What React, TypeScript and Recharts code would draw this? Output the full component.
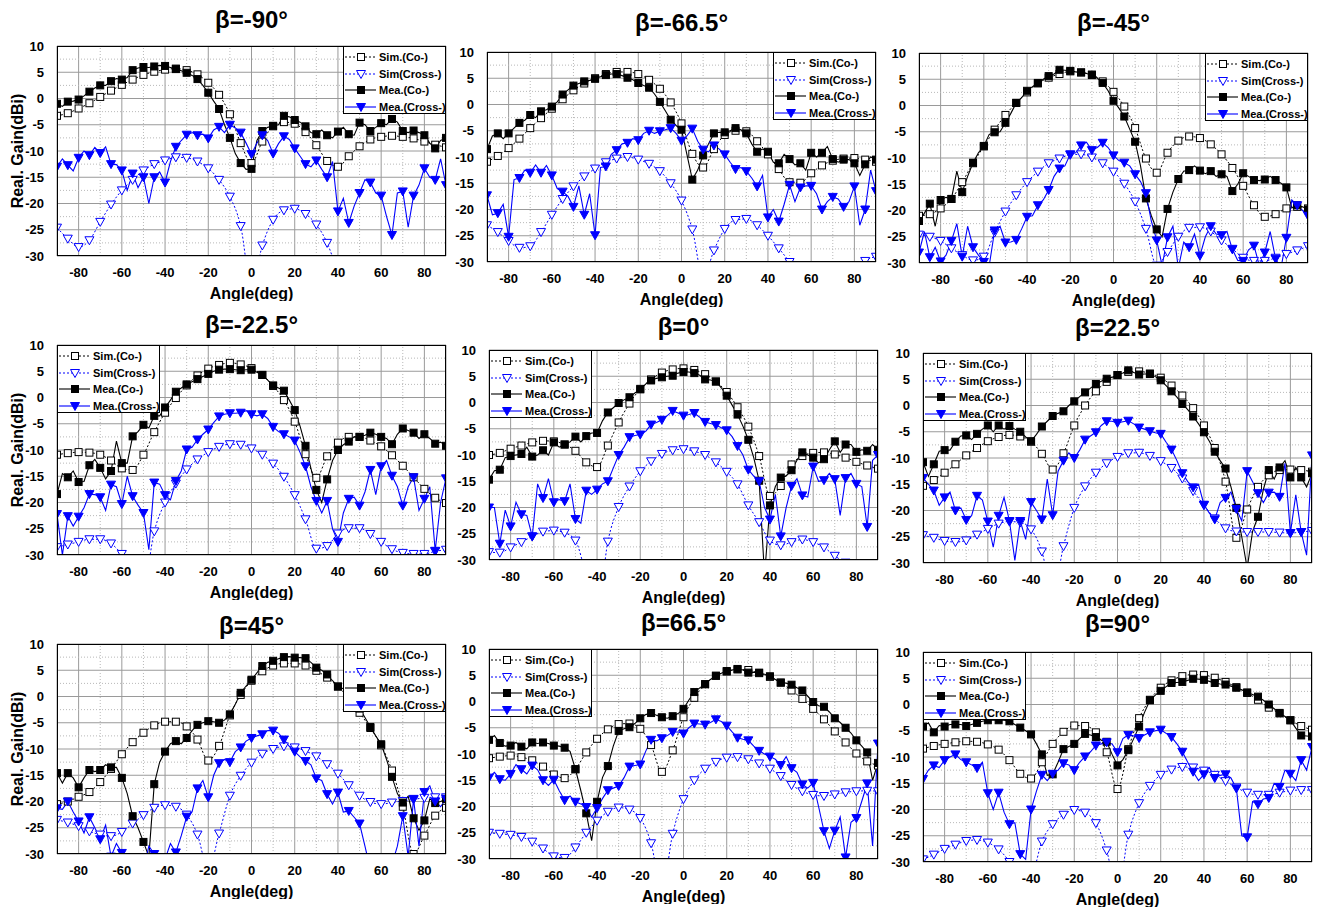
import React from 'react';
import { LineChart, Line, XAxis, YAxis, CartesianGrid, ReferenceLine } from 'recharts';

const ANGLES = [-90, -85, -80, -75, -70, -65, -60, -55, -50, -45, -40, -35, -30, -25, -20, -15, -10, -5, 0, 5, 10, 15, 20, 25, 30, 35, 40, 45, 50, 55, 60, 65, 70, 75, 80, 85, 90];
// measured curves are sampled finer than the markers: one extra reading halfway between markers
const MID_ANGLES = ANGLES.slice(1).map((a) => a - 2.5);
const X_TICKS = [-80, -60, -40, -20, 0, 20, 40, 60, 80];
const Y_TICKS = [-30, -25, -20, -15, -10, -5, 0, 5, 10];
const X_MINOR = [-70, -50, -30, -10, 10, 30, 50, 70];
const Y_MINOR = [-27.5, -22.5, -17.5, -12.5, -7.5, -2.5, 2.5, 7.5];

const TITLES = ['β=-90°', 'β=-66.5°', 'β=-45°', 'β=-22.5°', 'β=0°', 'β=22.5°', 'β=45°', 'β=66.5°', 'β=90°'];
const LEGEND_LABELS = ['Sim.(Co-)', 'Sim(Cross-)', 'Mea.(Co-)', 'Mea.(Cross-)'];

// beta = -90
const simCoM90 = [-3.3, -2.8, -1.9, -0.9, 0.3, 1.5, 2.6, 3.6, 4.5, 5.1, 5.5, 5.7, 5.4, 4.6, 3.0, 0.7, -3.0, -8.5, -12.3, -8.2, -5.3, -4.5, -4.8, -6.4, -8.9, -11.9, -13.0, -11.0, -9.1, -7.8, -7.3, -7.1, -7.3, -7.6, -8.2, -8.8, -9.3];
const simXM90 = [-24.6, -26.7, -28.3, -27.0, -23.5, -20.2, -17.5, -15.5, -13.7, -12.5, -11.8, -11.2, -11.3, -12.0, -13.3, -15.5, -18.7, -24.3, -36, -28.0, -23.1, -21.3, -21.0, -22.0, -24.0, -27.5, -33, -37, -40, -40, -40, -40, -40, -40, -40, -40, -40];
const meaCoM90 = [-1.0, -0.6, -0.2, 1.3, 2.5, 3.3, 3.6, 5.4, 6.0, 6.1, 6.2, 5.6, 4.9, 3.7, 1.1, -2.0, -7.5, -12.3, -13.4, -6.2, -5.2, -3.3, -4.1, -5.3, -6.8, -7.0, -6.3, -6.8, -4.6, -6.2, -4.7, -3.9, -6.2, -6.1, -7.0, -9.5, -7.5];
const meaXM90 = [-13.0, -12.7, -11.3, -10.8, -10.4, -12.5, -13.7, -14.3, -15.0, -15.0, -16.0, -9.2, -6.9, -7.0, -7.6, -5.4, -5.0, -6.5, -10.6, -7.0, -10.5, -7.2, -9.5, -12.5, -11.8, -15.0, -21.5, -23.7, -18.0, -16.0, -18.5, -26.0, -17.7, -18.5, -13.3, -15.5, -16.5];
const meaCoM90Mid = [-1.5, -0.5, 0.5, 2.0, 2.5, 3.8, 4.0, 5.8, 5.9, 6.3, 5.9, 5.3, 4.4, 2.5, -0.5, -5.0, -10.5, -13.5, -8.0, -5.5, -5.0, -3.5, -4.5, -6.5, -6.0, -7.5, -5.5, -7.0, -5.0, -5.5, -5.0, -4.5, -6.5, -6.5, -8.5, -8.0];
const meaXM90Mid = [-11.5, -13.8, -10.0, -9.3, -9.2, -12.6, -17.5, -17.0, -20.0, -14.0, -12.0, -8.0, -6.5, -6.8, -6.0, -6.5, -5.6, -8.5, -8.5, -8.0, -8.6, -7.8, -11.0, -13.0, -13.5, -12.0, -19.0, -20.5, -15.5, -18.0, -22.5, -18.0, -24.5, -16.5, -15.0, -11.5];

// beta = -66.5
const simCoM665 = [-10.9, -9.8, -8.3, -6.5, -4.5, -2.6, -0.8, 1.0, 2.7, 4.0, 5.0, 5.8, 6.2, 6.2, 5.8, 4.7, 3.0, 0.4, -3.6, -9.4, -12.0, -8.5, -5.8, -5.0, -5.1, -7.0, -9.5, -12.3, -14.8, -14.9, -13.1, -11.6, -10.7, -10.3, -10.2, -10.5, -10.9];
const simXM665 = [-23.0, -24.3, -26.0, -27.3, -27.0, -24.3, -21.0, -18.0, -15.6, -13.7, -12.2, -11.0, -10.3, -10.0, -10.5, -11.3, -12.7, -15.0, -18.3, -23.8, -33, -27.8, -23.7, -22.0, -21.8, -23.0, -25.0, -27.4, -30.0, -33, -36, -36, -36, -36, -33, -29.8, -29.0];
const meaCoM665 = [-8.5, -5.5, -5.5, -3.5, -2.0, -1.3, -0.4, 1.9, 3.6, 4.4, 4.9, 5.6, 5.8, 5.1, 4.1, 3.2, 0.5, -2.9, -4.8, -14.3, -9.7, -5.5, -5.3, -4.5, -5.5, -9.0, -9.0, -11.2, -10.4, -11.2, -9.2, -9.2, -10.4, -10.5, -11.2, -11.4, -10.5];
const meaXM665 = [-17.3, -20.7, -25.2, -14.0, -13.0, -13.0, -13.5, -16.6, -19.5, -21.0, -24.9, -11.8, -8.7, -7.3, -6.8, -5.0, -5.1, -4.5, -6.9, -4.6, -8.6, -7.8, -9.5, -12.3, -12.7, -15.6, -21.5, -22.3, -15.3, -15.8, -15.5, -20.0, -17.6, -19.5, -15.6, -20.0, -16.5];
const meaCoM665Mid = [-6.0, -6.5, -4.5, -3.0, -2.5, -1.0, 0.5, 2.8, 4.0, 4.6, 5.3, 5.8, 5.5, 4.7, 3.6, 2.0, -1.2, -4.0, -9.5, -12.5, -7.5, -5.3, -5.0, -4.8, -7.5, -8.5, -11.0, -9.5, -11.5, -12.5, -10.0, -8.0, -11.0, -10.5, -13.5, -10.0];
const meaXM665Mid = [-21.0, -19.0, -14.3, -12.5, -11.5, -11.6, -16.0, -17.5, -15.5, -17.0, -12.0, -9.5, -7.5, -6.5, -5.5, -5.5, -4.8, -5.5, -6.0, -7.0, -9.0, -8.5, -11.0, -12.0, -14.0, -13.5, -20.0, -19.0, -18.5, -15.5, -17.0, -18.5, -18.0, -18.5, -23.0, -12.5];

// beta = -45
const simCoM45 = [-21.0, -20.7, -19.6, -17.8, -14.6, -11.0, -7.8, -4.6, -1.8, 0.5, 2.5, 4.2, 5.3, 6.0, 6.5, 6.3, 5.9, 4.6, 2.6, -0.2, -4.3, -10.1, -12.8, -9.0, -6.7, -5.9, -6.2, -7.4, -9.3, -11.9, -15.3, -19.0, -21.2, -20.7, -19.6, -19.3, -19.6];
const simXM45 = [-24.6, -25.0, -25.8, -27.2, -28.5, -29.5, -28.8, -24.2, -20.2, -17.1, -14.6, -12.6, -11.0, -10.1, -9.4, -9.3, -9.9, -11.0, -12.6, -14.9, -18.3, -23.5, -30.5, -27.9, -25.0, -23.3, -23.2, -24.0, -25.7, -27.3, -29.0, -29.6, -29.6, -29.0, -28.3, -27.6, -26.8];
const meaCoM45 = [-22.0, -18.7, -18.0, -17.8, -16.5, -10.9, -7.7, -5.1, -3.3, 0.5, 2.8, 4.3, 5.6, 6.8, 6.6, 6.3, 5.8, 4.3, 0.9, -2.1, -6.9, -17.7, -23.6, -19.7, -14.0, -12.3, -12.4, -12.5, -13.1, -16.3, -12.9, -14.2, -14.1, -14.2, -15.6, -19.0, -19.8];
const meaXM45 = [-28.0, -28.9, -29.7, -25.8, -28.8, -27.0, -29.8, -23.8, -26.1, -25.6, -21.2, -19.0, -16.1, -12.0, -9.3, -7.6, -8.5, -7.1, -9.5, -10.9, -13.1, -16.7, -25.7, -25.1, -31, -27.0, -28.6, -23.0, -24.7, -27.4, -29.6, -26.7, -28.0, -29.2, -25.2, -19.0, -21.0];
const meaCoM45Mid = [-20.5, -23.0, -17.5, -12.5, -13.5, -9.0, -5.5, -5.0, -1.5, 1.5, 3.6, 5.0, 6.0, 6.7, 6.4, 6.1, 5.2, 2.8, -0.5, -4.5, -11.5, -21.0, -25.0, -16.5, -12.5, -11.5, -13.0, -13.5, -13.5, -15.0, -13.5, -14.3, -13.5, -14.8, -19.5, -19.3];
const meaXM45Mid = [-24.0, -27.0, -28.5, -22.5, -23.0, -28.5, -30.5, -23.0, -26.0, -23.5, -21.0, -18.0, -13.5, -11.5, -9.0, -7.0, -8.0, -8.0, -10.5, -11.5, -14.5, -22.0, -30.5, -23.0, -26.0, -24.5, -25.0, -24.5, -24.0, -29.5, -27.5, -30.5, -24.0, -31, -18.0, -20.0];

// beta = -22.5
const simCoM225 = [-10.9, -10.6, -10.4, -10.5, -10.9, -12.0, -13.5, -13.8, -10.9, -6.6, -2.9, -0.1, 2.3, 4.2, 5.5, 6.2, 6.6, 6.3, 5.6, 4.3, 2.2, -0.5, -4.6, -10.8, -15.3, -11.2, -8.6, -7.5, -7.5, -8.2, -9.3, -11.0, -13.0, -15.2, -17.4, -19.1, -20.1];
const simXM225 = [-28.5, -28.0, -27.5, -27.0, -27.0, -27.8, -29.8, -32, -36, -25.5, -20.0, -16.4, -13.7, -11.8, -10.4, -9.4, -8.9, -9.0, -9.7, -10.9, -12.6, -15.1, -18.6, -23.2, -28.8, -28.3, -25.9, -24.9, -24.9, -26.0, -27.5, -28.9, -29.6, -29.8, -29.8, -29.3, -29.0];
const meaCoM225 = [-18.4, -15.2, -16.1, -12.9, -13.4, -14.0, -12.5, -7.4, -5.2, -3.5, -1.9, 1.1, 2.5, 3.5, 4.5, 5.3, 5.4, 5.2, 5.3, 4.3, 2.3, 1.3, -2.4, -9.2, -17.6, -15.6, -10.0, -8.4, -7.5, -6.7, -7.5, -8.9, -5.9, -6.7, -7.0, -8.8, -9.2];
const meaXM225 = [-22.2, -22.6, -22.7, -18.4, -19.0, -16.6, -20.3, -18.8, -22.0, -16.2, -18.6, -15.9, -9.9, -8.0, -6.1, -3.6, -3.0, -2.9, -3.2, -3.2, -5.6, -7.0, -8.2, -13.1, -19.7, -19.7, -27.5, -19.3, -20.6, -13.8, -13.1, -14.9, -20.6, -15.2, -19.3, -29.2, -15.4];
const meaCoM225Mid = [-14.5, -14.0, -16.0, -11.8, -15.5, -8.3, -12.5, -6.5, -5.8, -3.5, -0.5, 1.8, 3.0, 4.0, 5.0, 5.4, 5.3, 5.3, 4.8, 3.3, 1.8, -0.5, -5.5, -13.5, -20.0, -12.0, -9.0, -7.5, -7.2, -7.0, -7.8, -7.0, -6.3, -7.8, -7.8, -8.5];
const meaXM225Mid = [-30, -24.5, -21.0, -18.5, -21.5, -17.0, -15.0, -20.5, -29.0, -16.5, -19.5, -14.0, -9.5, -7.0, -4.8, -3.2, -3.0, -2.5, -3.5, -4.0, -6.5, -7.5, -10.5, -17.0, -22.0, -25.0, -22.0, -19.0, -18.0, -18.5, -12.0, -17.0, -17.0, -21.5, -17.0, -20.0];

// beta = 0
const simCoZ0 = [-10.0, -9.6, -8.8, -8.2, -7.6, -7.3, -7.4, -8.0, -9.2, -11.4, -12.3, -8.2, -3.8, -0.2, 2.6, 4.4, 5.7, 6.3, 6.5, 6.2, 5.4, 4.0, 2.0, -0.9, -4.6, -10.2, -17.8, -15.9, -11.8, -10.2, -9.6, -9.5, -9.9, -10.5, -11.3, -12.0, -12.6];
const simXZ0 = [-28.5, -28.6, -27.6, -26.6, -25.5, -24.6, -24.4, -24.8, -26.3, -33, -40, -26.5, -19.9, -16.0, -13.1, -11.2, -9.8, -9.1, -8.9, -9.3, -10.0, -11.4, -13.2, -15.6, -19.6, -22.8, -26.3, -27.2, -26.6, -26.1, -26.6, -27.6, -29.2, -30.5, -31, -32, -33];
const meaCoZ0 = [-14.7, -12.8, -10.2, -9.8, -10.3, -9.1, -7.6, -8.0, -6.5, -6.4, -5.8, -1.9, -0.1, 1.0, 2.5, 4.2, 4.8, 5.1, 5.8, 5.6, 4.4, 4.0, 1.3, -2.3, -7.1, -14.9, -19.6, -14.3, -12.9, -9.5, -10.5, -10.8, -7.4, -8.0, -9.4, -9.2, -9.0];
const meaXZ0 = [-20.0, -26.9, -23.6, -21.3, -25.5, -18.2, -19.0, -18.8, -22.2, -16.8, -16.6, -15.0, -10.0, -6.6, -6.1, -4.2, -3.3, -1.6, -2.5, -2.0, -3.7, -4.3, -5.3, -8.3, -12.8, -15.0, -22.3, -25.5, -15.9, -17.7, -12.2, -14.8, -14.6, -14.4, -15.5, -23.7, -10.0];
const meaCoZ0Mid = [-13.0, -10.5, -10.0, -8.5, -10.0, -10.0, -8.5, -7.5, -7.5, -5.8, -3.5, -1.0, 0.5, 1.8, 3.5, 4.6, 5.0, 5.6, 5.8, 5.2, 4.3, 2.8, -0.5, -4.5, -10.5, -33, -16.0, -14.0, -11.0, -10.0, -11.5, -9.0, -9.5, -8.0, -9.0, -8.0];
const meaXZ0Mid = [-20.0, -20.5, -19.0, -21.5, -15.5, -14.5, -18.5, -15.5, -23.0, -17.5, -15.5, -12.5, -8.5, -6.3, -5.5, -3.8, -2.5, -2.0, -2.3, -2.8, -4.0, -4.8, -6.5, -10.0, -14.0, -20.0, -17.5, -20.0, -14.5, -18.0, -15.0, -13.5, -21.5, -13.5, -16.0, -11.0];

// beta = 22.5
const simCoP225 = [-15.3, -14.2, -12.8, -11.2, -9.5, -8.1, -6.8, -6.0, -5.6, -5.9, -6.9, -9.2, -12.2, -9.1, -3.8, 0.0, 2.7, 4.5, 5.8, 6.4, 6.5, 6.1, 5.3, 3.8, 1.9, -0.5, -3.8, -8.1, -14.5, -25.2, -19.8, -15.5, -13.3, -12.3, -12.2, -12.3, -12.6];
const simXP225 = [-24.7, -25.2, -25.8, -26.0, -25.7, -24.6, -23.5, -22.5, -22.1, -22.3, -23.6, -27.8, -36, -26.8, -19.5, -15.4, -12.8, -11.0, -9.8, -9.1, -9.0, -9.6, -10.6, -11.9, -13.9, -16.3, -19.0, -21.5, -23.4, -24.0, -24.1, -24.1, -24.1, -24.2, -24.3, -24.1, -23.9];
const meaCoP225 = [-10.8, -11.2, -8.5, -6.9, -5.7, -5.4, -3.8, -3.8, -3.9, -5.0, -6.8, -4.0, -2.0, -1.1, 0.8, 2.5, 4.1, 5.1, 5.8, 6.7, 5.9, 6.0, 4.8, 2.7, 0.3, -2.1, -5.1, -8.8, -12.0, -19.5, -31, -21.2, -12.3, -11.8, -13.7, -13.7, -12.9];
const meaXP225 = [-13.8, -16.2, -17.5, -20.0, -21.8, -17.2, -22.1, -21.0, -22.0, -22.0, -18.4, -21.7, -20.9, -10.5, -10.0, -6.5, -5.1, -3.0, -3.3, -2.9, -4.2, -4.9, -5.4, -8.4, -12.9, -15.6, -18.9, -21.7, -17.6, -19.7, -12.5, -16.7, -16.6, -17.4, -24.3, -24.1, -9.5];
const meaCoP225Mid = [-13.5, -8.7, -8.5, -5.8, -6.5, -4.5, -5.0, -4.5, -4.5, -6.0, -5.5, -3.0, -1.5, 0.0, 1.7, 3.3, 4.6, 5.4, 6.2, 6.3, 6.0, 5.5, 3.8, 1.6, -0.8, -3.5, -6.8, -10.5, -15.5, -25.0, -24.0, -16.0, -14.0, -10.5, -11.8, -15.5];
const meaXP225Mid = [-15.0, -19.0, -16.5, -19.5, -21.0, -18.0, -27.0, -17.5, -29.5, -25.5, -20.0, -14.0, -12.5, -9.0, -8.5, -5.8, -3.8, -3.0, -3.1, -3.5, -4.5, -5.2, -7.0, -10.5, -14.5, -15.0, -20.5, -18.5, -16.5, -22.0, -14.5, -18.5, -16.5, -11.0, -17.0, -28.5];

// beta = 45
const simCoP45 = [-20.5, -20.0, -19.1, -18.2, -16.3, -13.8, -11.0, -8.7, -6.9, -5.5, -4.8, -4.8, -5.7, -8.2, -12.2, -9.4, -3.6, 0.3, 3.0, 4.8, 5.9, 6.3, 6.3, 5.9, 4.9, 3.6, 1.9, -0.3, -3.1, -6.0, -9.3, -14.1, -21.0, -30.0, -26.5, -22.7, -21.2];
const simXP45 = [-23.5, -24.0, -24.7, -25.7, -26.3, -26.6, -25.8, -24.2, -22.6, -21.2, -20.7, -21.0, -22.5, -26.3, -33, -26.1, -18.9, -15.1, -12.6, -10.9, -10.0, -9.5, -9.7, -10.4, -11.4, -12.9, -14.7, -16.9, -18.9, -20.1, -20.5, -20.2, -19.9, -19.6, -19.3, -19.2, -19.2];
const meaCoP45 = [-14.6, -14.6, -17.3, -14.0, -14.0, -13.5, -15.5, -22.8, -27.7, -16.7, -10.5, -8.5, -7.9, -5.4, -4.7, -5.0, -3.4, 0.7, 3.2, 5.8, 6.8, 7.5, 7.4, 7.3, 5.5, 4.2, 1.9, 0.9, -2.3, -5.8, -9.1, -15.3, -20.2, -23.2, -23.6, -20.3, -19.5];
const meaXP45 = [-21.3, -20.0, -23.8, -23.0, -27.2, -30.5, -29.8, -31, -33, -30.0, -31, -29.7, -22.9, -17.5, -19.2, -12.7, -12.5, -9.7, -7.9, -7.2, -6.5, -8.2, -10.5, -12.3, -15.6, -18.6, -18.3, -21.8, -24.2, -33, -34, -32, -22.8, -19.5, -18.2, -20.0, -19.5];
const meaCoP45Mid = [-16.5, -15.5, -15.5, -14.3, -13.0, -13.5, -18.5, -25.0, -30.5, -12.5, -9.0, -9.0, -6.5, -5.0, -4.8, -4.5, -1.5, 2.0, 4.5, 6.5, 7.2, 7.6, 7.4, 6.5, 5.0, 3.0, 1.5, -0.5, -4.0, -7.5, -12.0, -18.5, -19.0, -25.5, -19.5, -20.0];
const meaXP45Mid = [-21.5, -22.0, -26.0, -25.0, -24.5, -28.0, -33, -31, -28.5, -30.5, -28.0, -26.5, -22.0, -16.0, -15.0, -12.0, -10.5, -8.5, -7.5, -6.5, -7.0, -9.5, -11.5, -13.0, -16.0, -20.5, -22.0, -23.0, -28.5, -36, -36, -28.5, -30.5, -28.5, -17.0, -21.0];

// beta = 66.5
const simCoP665 = [-10.8, -10.5, -10.3, -10.6, -11.2, -12.4, -13.9, -14.6, -12.9, -9.7, -7.1, -5.3, -4.3, -4.2, -5.2, -8.3, -13.4, -9.3, -3.0, 0.7, 3.3, 4.9, 5.7, 6.1, 6.0, 5.4, 4.7, 3.6, 2.1, 0.5, -1.4, -3.4, -5.7, -7.8, -9.9, -11.4, -12.2];
const simXP665 = [-25.0, -25.2, -25.4, -25.8, -26.7, -28.0, -29.5, -29.8, -27.8, -25.0, -22.7, -21.0, -20.2, -20.6, -22.2, -27.0, -36, -25.2, -18.6, -15.0, -12.8, -11.5, -10.7, -10.6, -11.0, -11.8, -12.8, -14.2, -15.9, -17.1, -17.8, -18.0, -17.7, -17.3, -17.1, -17.0, -17.1];
const meaCoP665 = [-7.3, -7.9, -8.4, -8.6, -7.8, -7.8, -8.4, -8.8, -12.9, -21.3, -19.1, -12.3, -5.6, -4.9, -3.2, -2.2, -3.0, -2.8, -1.4, 1.8, 3.3, 4.9, 5.8, 6.2, 5.5, 5.5, 4.8, 3.6, 3.2, 2.1, -0.1, -1.0, -3.2, -5.0, -7.4, -9.7, -11.7];
const meaXP665 = [-14.5, -14.8, -13.8, -12.9, -12.2, -15.0, -14.9, -18.8, -19.1, -20.1, -20.3, -16.9, -16.1, -12.4, -12.0, -7.3, -7.0, -5.8, -6.1, -4.2, -4.4, -3.4, -4.6, -6.9, -7.4, -9.4, -10.5, -12.1, -12.7, -15.8, -15.5, -24.7, -24.6, -29.7, -22.2, -15.6, -8.0];
const meaCoP665Mid = [-6.5, -8.5, -7.8, -9.0, -8.0, -8.0, -8.5, -9.5, -17.0, -26.5, -14.5, -8.5, -5.2, -4.2, -2.5, -2.6, -3.2, -2.3, 0.3, 2.6, 4.2, 5.4, 6.0, 6.0, 5.6, 5.2, 4.2, 3.5, 2.6, 1.0, -0.8, -2.0, -4.0, -6.0, -8.5, -15.0];
const meaXP665Mid = [-13.5, -15.0, -12.0, -13.8, -13.0, -16.0, -17.0, -18.0, -19.5, -22.0, -18.5, -16.5, -14.5, -12.2, -9.5, -7.5, -6.5, -5.8, -5.0, -4.3, -4.0, -3.8, -5.8, -7.2, -8.5, -10.0, -11.0, -10.5, -13.5, -16.5, -20.0, -28.0, -22.0, -23.0, -19.0, -27.5];

// beta = 90
const simCoP90 = [-8.4, -7.9, -7.5, -7.2, -7.0, -7.1, -7.6, -8.6, -10.6, -13.2, -14.1, -11.0, -7.5, -5.2, -4.0, -4.1, -5.3, -9.1, -16.1, -8.5, -2.6, 0.9, 3.2, 4.6, 5.4, 5.7, 5.6, 5.1, 4.3, 3.3, 2.2, 0.9, -0.6, -1.7, -3.0, -4.1, -4.8];
const simXP90 = [-29.5, -28.6, -27.5, -26.7, -26.0, -25.8, -26.3, -27.6, -30.0, -34, -33, -26.1, -22.8, -21.0, -20.1, -20.6, -22.6, -27.8, -36, -24.8, -18.8, -15.5, -13.4, -12.4, -11.9, -12.0, -12.6, -13.4, -14.6, -15.8, -16.8, -17.2, -17.2, -16.8, -16.4, -16.3, -16.3];
const meaCoP90 = [-4.2, -5.3, -4.2, -3.8, -4.1, -3.5, -3.0, -3.0, -3.2, -4.4, -5.7, -9.5, -13.3, -8.5, -7.5, -5.6, -6.2, -7.1, -11.6, -8.7, -4.2, 0.8, 2.6, 4.1, 4.3, 4.9, 4.7, 4.1, 3.8, 3.2, 2.3, 1.5, 0.0, -1.6, -3.0, -5.9, -6.1];
const meaXP90 = [-14.2, -11.6, -10.6, -9.5, -11.0, -12.1, -16.9, -16.8, -22.8, -28.5, -20.0, -13.4, -13.2, -11.2, -12.5, -9.9, -7.8, -7.2, -9.1, -5.8, -6.4, -5.3, -4.8, -6.2, -9.0, -12.8, -13.3, -14.0, -13.3, -16.0, -25.3, -19.0, -17.8, -15.7, -13.2, -10.6, -8.1];
const meaCoP90Mid = [-3.5, -4.0, -3.8, -3.8, -3.8, -3.2, -3.0, -3.0, -3.8, -5.0, -7.5, -13.5, -11.0, -8.0, -6.5, -5.8, -6.8, -9.5, -10.5, -6.5, -1.5, 1.8, 3.4, 4.2, 4.6, 4.8, 4.4, 3.9, 3.5, 2.8, 1.9, 0.8, -0.8, -2.3, -4.5, -6.0];
const meaXP90Mid = [-12.5, -12.0, -10.0, -10.5, -11.5, -11.0, -20.0, -20.5, -22.5, -29.5, -16.5, -14.5, -12.5, -11.5, -11.0, -9.0, -7.5, -7.5, -6.5, -6.0, -5.8, -5.0, -5.5, -7.5, -11.0, -14.5, -12.0, -13.5, -14.0, -25.0, -18.5, -18.0, -15.0, -12.5, -14.5, -12.5];

const FONT = "'Liberation Sans', Arial, Helvetica, sans-serif";
const BLUE = '#0000ff';
const PW = 389;
const PH = 210;
const AXW = 50;
const TOPM = 12;
const XAH = 45;

const buildRows = (sc: number[], sx: number[], mc: number[], mx: number[], mcMid: number[], mxMid: number[]) => {
  const rows: any[] = [];
  ANGLES.forEach((a, i) => {
    rows.push({ angle: a, simCo: sc[i], simX: sx[i], meaCo: mc[i], meaX: mx[i] });
    if (i < MID_ANGLES.length) rows.push({ angle: MID_ANGLES[i], meaCo: mcMid[i], meaX: mxMid[i] });
  });
  return rows;
};

const PANELS = [
  { rows: buildRows(simCoM90, simXM90, meaCoM90, meaXM90, meaCoM90Mid, meaXM90Mid), x: 57, y: 46, ty: 20, legend: 'right', ylab: true },
  { rows: buildRows(simCoM665, simXM665, meaCoM665, meaXM665, meaCoM665Mid, meaXM665Mid), x: 487, y: 52, ty: 23, legend: 'right', ylab: false },
  { rows: buildRows(simCoM45, simXM45, meaCoM45, meaXM45, meaCoM45Mid, meaXM45Mid), x: 919, y: 53, ty: 23, legend: 'right', ylab: false },
  { rows: buildRows(simCoM225, simXM225, meaCoM225, meaXM225, meaCoM225Mid, meaXM225Mid), x: 57, y: 345, ty: 325, legend: 'left', ylab: true },
  { rows: buildRows(simCoZ0, simXZ0, meaCoZ0, meaXZ0, meaCoZ0Mid, meaXZ0Mid), x: 489, y: 350, ty: 327, legend: 'left', ylab: false },
  { rows: buildRows(simCoP225, simXP225, meaCoP225, meaXP225, meaCoP225Mid, meaXP225Mid), x: 923, y: 353, ty: 328, legend: 'left', ylab: false },
  { rows: buildRows(simCoP45, simXP45, meaCoP45, meaXP45, meaCoP45Mid, meaXP45Mid), x: 57, y: 644, ty: 626, legend: 'right', ylab: true },
  { rows: buildRows(simCoP665, simXP665, meaCoP665, meaXP665, meaCoP665Mid, meaXP665Mid), x: 489, y: 649, ty: 623, legend: 'left', ylab: false },
  { rows: buildRows(simCoP90, simXP90, meaCoP90, meaXP90, meaCoP90Mid, meaXP90Mid), x: 923, y: 652, ty: 624, legend: 'left', ylab: false },
];

type Kind = 'sqOpen' | 'triOpen' | 'sqFill' | 'triFill';

function markerShape(kind: Kind, cx: number, cy: number, key?: string | number) {
  if (kind === 'sqOpen' || kind === 'sqFill') {
    return (
      <rect key={key} x={cx - 3.5} y={cy - 3.5} width={7} height={7}
        fill={kind === 'sqFill' ? '#000' : '#fff'} stroke="#000" strokeWidth={1} />
    );
  }
  return (
    <path key={key} d={`M${cx - 4.5},${cy - 3.5}L${cx + 4.5},${cy - 3.5}L${cx},${cy + 4.5}Z`}
      fill={kind === 'triFill' ? BLUE : '#fff'} stroke={BLUE} strokeWidth={1} />
  );
}

// markers only on the 5-degree samples
const dotFor = (kind: Kind) => (p: any) => {
  const { cx, cy, index, payload } = p;
  const onGrid = payload && payload.angle % 5 === 0;
  if (!onGrid || cx == null || cy == null || !Number.isFinite(cx) || !Number.isFinite(cy)) return <g key={`e${index}`} />;
  return markerShape(kind, cx, cy, `m${index}`);
};

const SERIES: { key: string; color: string; dash?: string; kind: Kind; width: number; type: 'monotone' | 'linear' }[] = [
  { key: 'simCo', color: '#000', dash: '2 2', kind: 'sqOpen', width: 1, type: 'monotone' },
  { key: 'simX', color: BLUE, dash: '2 2', kind: 'triOpen', width: 1, type: 'monotone' },
  { key: 'meaCo', color: '#000', kind: 'sqFill', width: 1.1, type: 'linear' },
  { key: 'meaX', color: BLUE, kind: 'triFill', width: 1.1, type: 'linear' },
];

function PanelLegend({ left, top }: { left: number; top: number }) {
  return (
    <div style={{
      position: 'absolute', left, top, width: 101, height: 66, background: '#fff',
      border: '1px solid #000', fontFamily: FONT, fontWeight: 'bold', fontSize: 11,
    }}>
      {SERIES.map((s, i) => (
        <div key={s.key} style={{ position: 'absolute', left: 0, top: 2 + i * 16.5, height: 16, display: 'flex', alignItems: 'center' }}>
          <svg width={34} height={16} style={{ display: 'block' }}>
            <line x1={1} y1={8} x2={32} y2={8} stroke={s.color} strokeWidth={s.width} strokeDasharray={s.dash} />
            {markerShape(s.kind, 17, 8)}
          </svg>
          <span style={{ marginLeft: 1, whiteSpace: 'nowrap', lineHeight: '16px' }}>{LEGEND_LABELS[i]}</span>
        </div>
      ))}
    </div>
  );
}

const tickStyle = { fontSize: 13, fontWeight: 'bold', fill: '#000', fontFamily: FONT };

function Panel({ p, title }: { p: typeof PANELS[number]; title: string }) {
  return (
    <>
      <div style={{
        position: 'absolute', left: p.x, top: p.ty - 15, width: PW, height: 30, textAlign: 'center',
        fontFamily: FONT, fontWeight: 'bold', fontSize: 24, lineHeight: '30px', color: '#000',
      }}>{title}</div>
      {p.ylab && (
        <div style={{
          position: 'absolute', left: 18 - 70, top: p.y + PH / 2 - 10, width: 140, height: 20,
          textAlign: 'center', transform: 'rotate(-90deg)', fontFamily: FONT, fontWeight: 'bold',
          fontSize: 16, lineHeight: '20px', whiteSpace: 'nowrap',
        }}>Real. Gain(dBi)</div>
      )}
      <div style={{ position: 'absolute', left: p.x - AXW, top: p.y - TOPM }}>
        <LineChart width={AXW + PW + 5} height={TOPM + PH + XAH} data={p.rows}
          margin={{ top: TOPM, right: 5, bottom: 0, left: 0 }}>
          <CartesianGrid stroke="#9a9a9a" strokeWidth={1} />
          {X_MINOR.map((v) => (
            <ReferenceLine key={`vx${v}`} x={v} stroke="#b8b8b8" strokeDasharray="1 2" />
          ))}
          {Y_MINOR.map((v) => (
            <ReferenceLine key={`hy${v}`} y={v} stroke="#b8b8b8" strokeDasharray="1 2" />
          ))}
          <XAxis type="number" dataKey="angle" domain={[-90, 90]} ticks={X_TICKS} interval={0}
            allowDataOverflow height={XAH} tickLine={false} axisLine={false} tickMargin={6}
            tick={tickStyle}
            label={{ value: 'Angle(deg)', position: 'insideBottom', offset: 2, fill: '#000', fontSize: 16, fontWeight: 'bold', fontFamily: FONT }} />
          <YAxis type="number" domain={[-30, 10]} ticks={Y_TICKS} interval={0} allowDataOverflow
            width={AXW} tickLine={false} axisLine={false} tickMargin={7} tick={tickStyle} />
          {SERIES.map((s) => (
            <Line key={s.key} dataKey={s.key} type={s.type} stroke={s.color} strokeWidth={s.width}
              strokeDasharray={s.dash} dot={dotFor(s.kind)} activeDot={false} connectNulls
              isAnimationActive={false} />
          ))}
        </LineChart>
      </div>
      <div style={{
        position: 'absolute', left: p.x, top: p.y, width: PW, height: PH,
        border: '1.3px solid #000', boxSizing: 'border-box', pointerEvents: 'none',
      }} />
      <PanelLegend left={p.legend === 'right' ? p.x + PW - 103 : p.x} top={p.y} />
    </>
  );
}

export default function App() {
  return (
    <div style={{ position: 'absolute', left: 0, top: 0, width: 1319, height: 907, background: '#fff', overflow: 'hidden' }}>
      {PANELS.map((p, i) => (
        <Panel key={i} p={p} title={TITLES[i]} />
      ))}
    </div>
  );
}
